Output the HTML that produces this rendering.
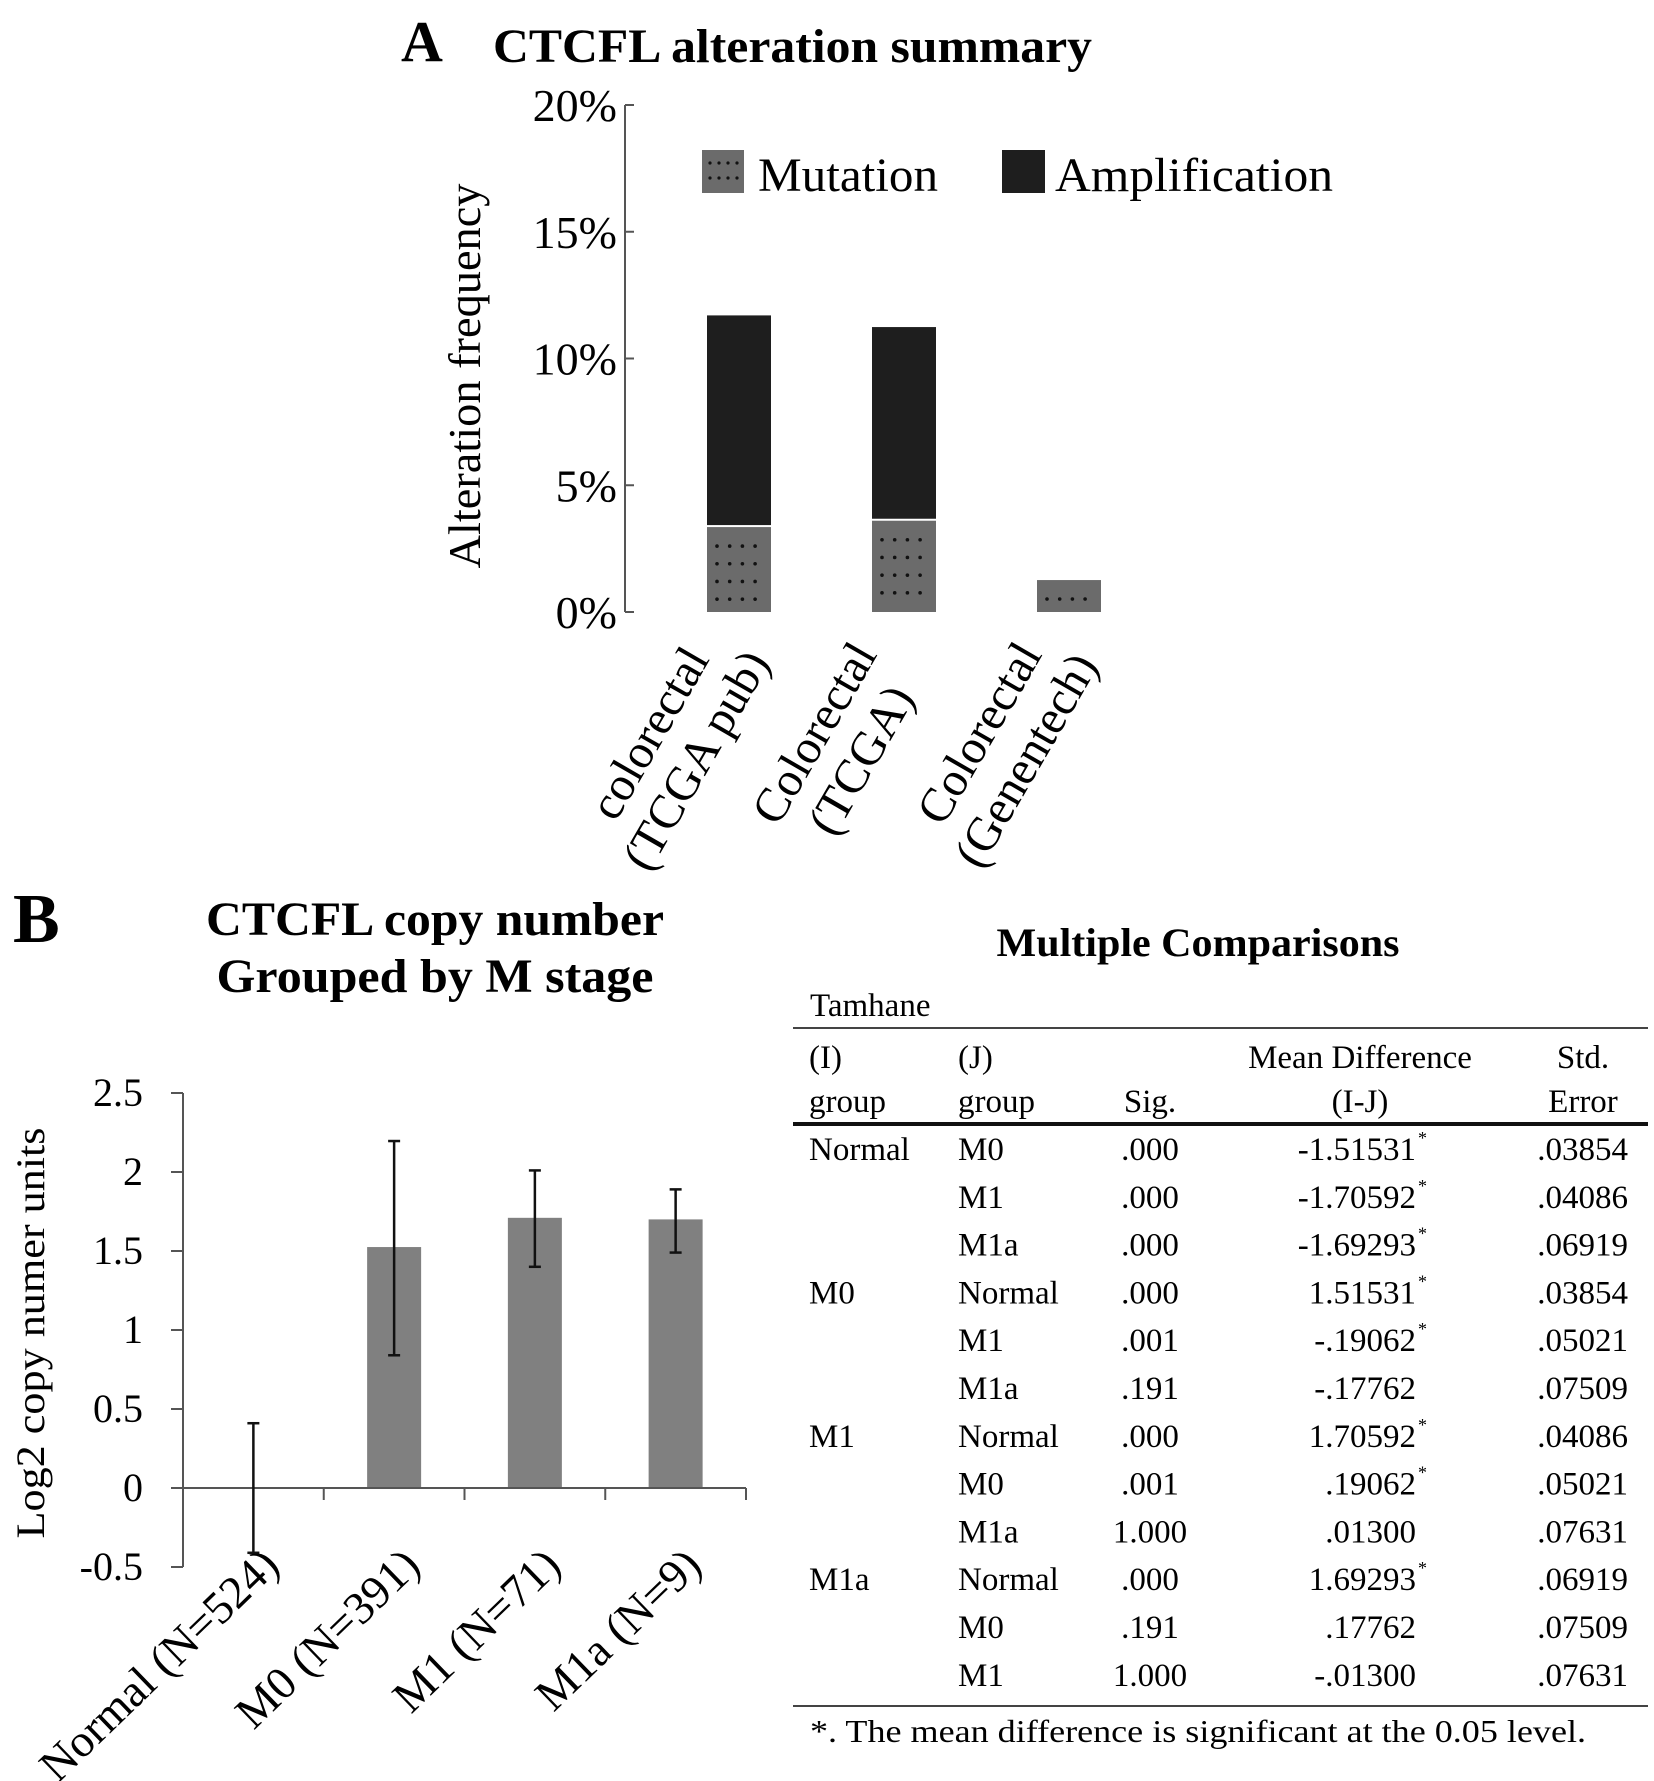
<!DOCTYPE html>
<html><head><meta charset="utf-8"><style>
html,body{margin:0;padding:0;background:#fff;}
svg{display:block;font-family:"Liberation Serif",serif;}
</style></head><body>
<svg id="fig" width="1654" height="1781" viewBox="0 0 1654 1781" xmlns="http://www.w3.org/2000/svg">
<rect width="1654" height="1781" fill="#fff"/>
<text x="401" y="61" font-size="58" font-weight="bold">A</text>
<text x="493" y="62" font-size="48" font-weight="bold" textLength="599" lengthAdjust="spacingAndGlyphs">CTCFL alteration summary</text>
<g id="chartA"></g>
<text transform="translate(480,376) rotate(-90)" text-anchor="middle" font-size="46" textLength="385" lengthAdjust="spacingAndGlyphs">Alteration frequency</text>
<g>
 <g>
  <rect x="702" y="150" width="42" height="43" fill="#6b6b6b"/>
  <g id="legDots"></g>
  <text x="758" y="191" font-size="48" textLength="180" lengthAdjust="spacingAndGlyphs">Mutation</text>
 </g>
 <g>
  <rect x="1002" y="150" width="43" height="43" fill="#1e1e1e"/>
  <text x="1055" y="191" font-size="48" textLength="278" lengthAdjust="spacingAndGlyphs">Amplification</text>
 </g>
</g>

<text x="13" y="942" font-size="70" font-weight="bold">B</text>
<text x="435" y="935" text-anchor="middle" font-size="48" font-weight="bold" textLength="458" lengthAdjust="spacingAndGlyphs">CTCFL copy number</text>
<text x="435" y="992" text-anchor="middle" font-size="48" font-weight="bold" textLength="437" lengthAdjust="spacingAndGlyphs">Grouped by M stage</text>
<g id="chartB"></g>
<text transform="translate(44,1333) rotate(-90)" text-anchor="middle" font-size="40" textLength="411" lengthAdjust="spacingAndGlyphs">Log2 copy numer units</text>

<g id="table">
 <text x="1198" y="956" text-anchor="middle" font-size="40" font-weight="bold" textLength="403" lengthAdjust="spacingAndGlyphs">Multiple Comparisons</text>
 <text x="810" y="1016" font-size="33">Tamhane</text>
 <line x1="793" y1="1028" x2="1648" y2="1028" stroke="#444" stroke-width="2"/>
 <line x1="793" y1="1124" x2="1648" y2="1124" stroke="#111" stroke-width="4"/>
 <line x1="793" y1="1706" x2="1648" y2="1706" stroke="#444" stroke-width="2"/>
 <g font-size="33">
  <text x="809" y="1068">(I)</text>
  <text x="809" y="1112">group</text>
  <text x="958" y="1068">(J)</text>
  <text x="958" y="1112">group</text>
  <text x="1150" y="1112" text-anchor="middle">Sig.</text>
  <text x="1360" y="1068" text-anchor="middle">Mean Difference</text>
  <text x="1360" y="1112" text-anchor="middle">(I-J)</text>
  <text x="1583" y="1068" text-anchor="middle">Std.</text>
  <text x="1583" y="1112" text-anchor="middle">Error</text>
 </g>
 <g id="tbody" font-size="33"></g>
 <text x="810" y="1742" font-size="32" textLength="776" lengthAdjust="spacingAndGlyphs">*. The mean difference is significant at the 0.05 level.</text>
</g>
</svg>
<script>
// ---------- Chart A data ----------
const catsA = [["colorectal","(TCGA pub)"],["Colorectal","(TCGA)"],["Colorectal","(Genentech)"]];
const mutation = [3.35, 3.6, 1.26];
const amplification = [8.35, 7.64, 0];
const ticksA = [0,5,10,15,20];
const tickLabelsA = ["0%","5%","10%","15%","20%"];

// ---------- Chart B data ----------
const catsB = ["Normal (N=524)","M0 (N=391)","M1 (N=71)","M1a (N=9)"];
const meansB = [0, 1.525, 1.71, 1.70];
const errLow = [-0.41, 0.84, 1.40, 1.49];
const errHigh = [0.41, 2.196, 2.01, 1.89];
const ticksB = [-0.5,0,0.5,1,1.5,2,2.5];
const tickLabelsB = ["-0.5","0","0.5","1","1.5","2","2.5"];

// ---------- Table data ----------
const colI = ["Normal","","","M0","","","M1","","","M1a","",""];
const colJ = ["M0","M1","M1a","Normal","M1","M1a","Normal","M0","M1a","Normal","M0","M1"];
const colSig = [".000",".000",".000",".000",".001",".191",".000",".001","1.000",".000",".191","1.000"];
const colMD = ["-1.51531","-1.70592","-1.69293","1.51531","-.19062","-.17762","1.70592",".19062",".01300","1.69293",".17762","-.01300"];
const colStar = [1,1,1,1,1,0,1,1,0,1,0,0];
const colSE = [".03854",".04086",".06919",".03854",".05021",".07509",".04086",".05021",".07631",".06919",".07509",".07631"];

const NS="http://www.w3.org/2000/svg";
function mk(tag, attrs, parent){const e=document.createElementNS(NS,tag);for(const k in attrs)e.setAttribute(k,attrs[k]);parent.appendChild(e);return e;}

// ---------- Chart A ----------
(function(){
 const g=document.getElementById('chartA');
 const x0=625, y0=612, y1=105, vmax=20;
 const yA=v=>y0-(v/vmax)*(y0-y1);
 const band=165, first=739, bw=64;
 const xc=i=>first+i*band;
 let ax=mk('line',{x1:x0,y1:yA(0),x2:x0,y2:yA(20),stroke:'#555','stroke-width':2},g);
 
 
 ticksA.forEach((t,i)=>{
  let tk=mk('line',{x1:x0,y1:yA(t),x2:x0+9,y2:yA(t),stroke:'#555','stroke-width':2},g);
  
  
  let tl=mk('text',{x:617,y:yA(t)+16,'text-anchor':'end','font-size':46},g);
  tl.textContent=tickLabelsA[i];
  
  
 });
 catsA.forEach((c,i)=>{
  const l=xc(i)-bw/2;
  const mTop=yA(mutation[i]);
  let mr=mk('rect',{x:l,y:mTop,width:bw,height:yA(0)-mTop,fill:'#6b6b6b'},g);
  
  
  for(let yy=mTop+19; yy<yA(0)-6; yy+=17.7){
   for(let k=0;k<4;k++){
    let d=mk('circle',{cx:l+10+k*12.7,cy:yy,r:1.8,fill:'#111'},g);
    
    
   }
  }
  if(amplification[i]>0){
   const aTop=yA(mutation[i]+amplification[i]);
   let ar=mk('rect',{x:l,y:aTop,width:bw,height:mTop-aTop-2,fill:'#1e1e1e'},g);
   
   
  }
  let lg=mk('g',{transform:`translate(${xc(i)-90},${733}) rotate(-60)`},g);
  
  
  c.forEach((s,j)=>{
   let t=mk('text',{x:0,y:j*54+16,'text-anchor':'middle','font-size':48},lg);
   t.textContent=s;
   
   
  });
 });
 const ld=document.getElementById('legDots');
 for(let r=0;r<2;r++)for(let k=0;k<4;k++){
  let d=mk('circle',{cx:710+k*9,cy:163+r*15,r:1.6,fill:'#111'},ld);
  
  
 }
})();

// ---------- Chart B ----------
(function(){
 const g=document.getElementById('chartB');
 const x0=183, x1=746, vmin=-0.5, vmax=2.5, py0=1567, py1=1093;
 const yB=v=>py0-(v-vmin)/(vmax-vmin)*(py0-py1);
 const band=(x1-x0)/catsB.length, bw=54;
 const xc=i=>x0+band*(i+0.5);
 let ya=mk('line',{x1:x0,y1:yB(vmin),x2:x0,y2:yB(vmax),stroke:'#555','stroke-width':2},g);
 
 
 ticksB.forEach((t,i)=>{
  let tk=mk('line',{x1:x0-12,y1:yB(t),x2:x0,y2:yB(t),stroke:'#555','stroke-width':2},g);
  
  
  let tl=mk('text',{x:143,y:yB(t)+13,'text-anchor':'end','font-size':40},g);
  tl.textContent=tickLabelsB[i];
  
  
 });
 catsB.forEach((c,i)=>{
  if(meansB[i]>0){
   let r=mk('rect',{x:xc(i)-bw/2,y:yB(meansB[i]),width:bw,height:yB(0)-yB(meansB[i]),fill:'#808080'},g);
   
   
  }
 });
 let xa=mk('line',{x1:x0,y1:yB(0),x2:x1,y2:yB(0),stroke:'#555','stroke-width':2},g);
 
 
 for(let i=1;i<=catsB.length;i++){
  let tk=mk('line',{x1:x0+band*i,y1:yB(0),x2:x0+band*i,y2:yB(0)+12,stroke:'#555','stroke-width':2},g);
  
  
 }
 catsB.forEach((c,i)=>{
  const cx=xc(i);
  let e=mk('line',{x1:cx,y1:yB(errLow[i]),x2:cx,y2:yB(errHigh[i]),stroke:'#111','stroke-width':2.5},g);
  
  
  [errLow[i],errHigh[i]].forEach(v=>{
   let cp=mk('line',{x1:cx-6,y1:yB(v),x2:cx+6,y2:yB(v),stroke:'#111','stroke-width':2.5},g);
   
   
  });
  let t=mk('text',{transform:`translate(${cx+28},${1568}) rotate(-44)`,'text-anchor':'end','font-size':46},g);
  t.textContent=c;
  
  
 });
})();

// ---------- Table ----------
(function(){
 const g=document.getElementById('tbody');
 const rowY=i=>1160+i*47.8;
 colJ.forEach((j,i)=>{
  const y=rowY(i);
  const cells=[[colI[i],809,'start','cell-i'],[j,958,'start','cell-j'],[colSig[i],1150,'middle','cell-sig'],[colMD[i],1416,'end','cell-mean-diff'],[colSE[i],1628,'end','cell-std-error']];
  cells.forEach(c=>{
   if(!c[0])return;
   let t=mk('text',{x:c[1],y:y,'text-anchor':c[2]},g);
   t.textContent=c[0];
   
   
  });
  if(colStar[i]){
   let s=mk('text',{x:1418,y:y-16,'font-size':18},g);
   s.textContent='*';
   
   
  }
 });
})();
</script>
</body></html>
